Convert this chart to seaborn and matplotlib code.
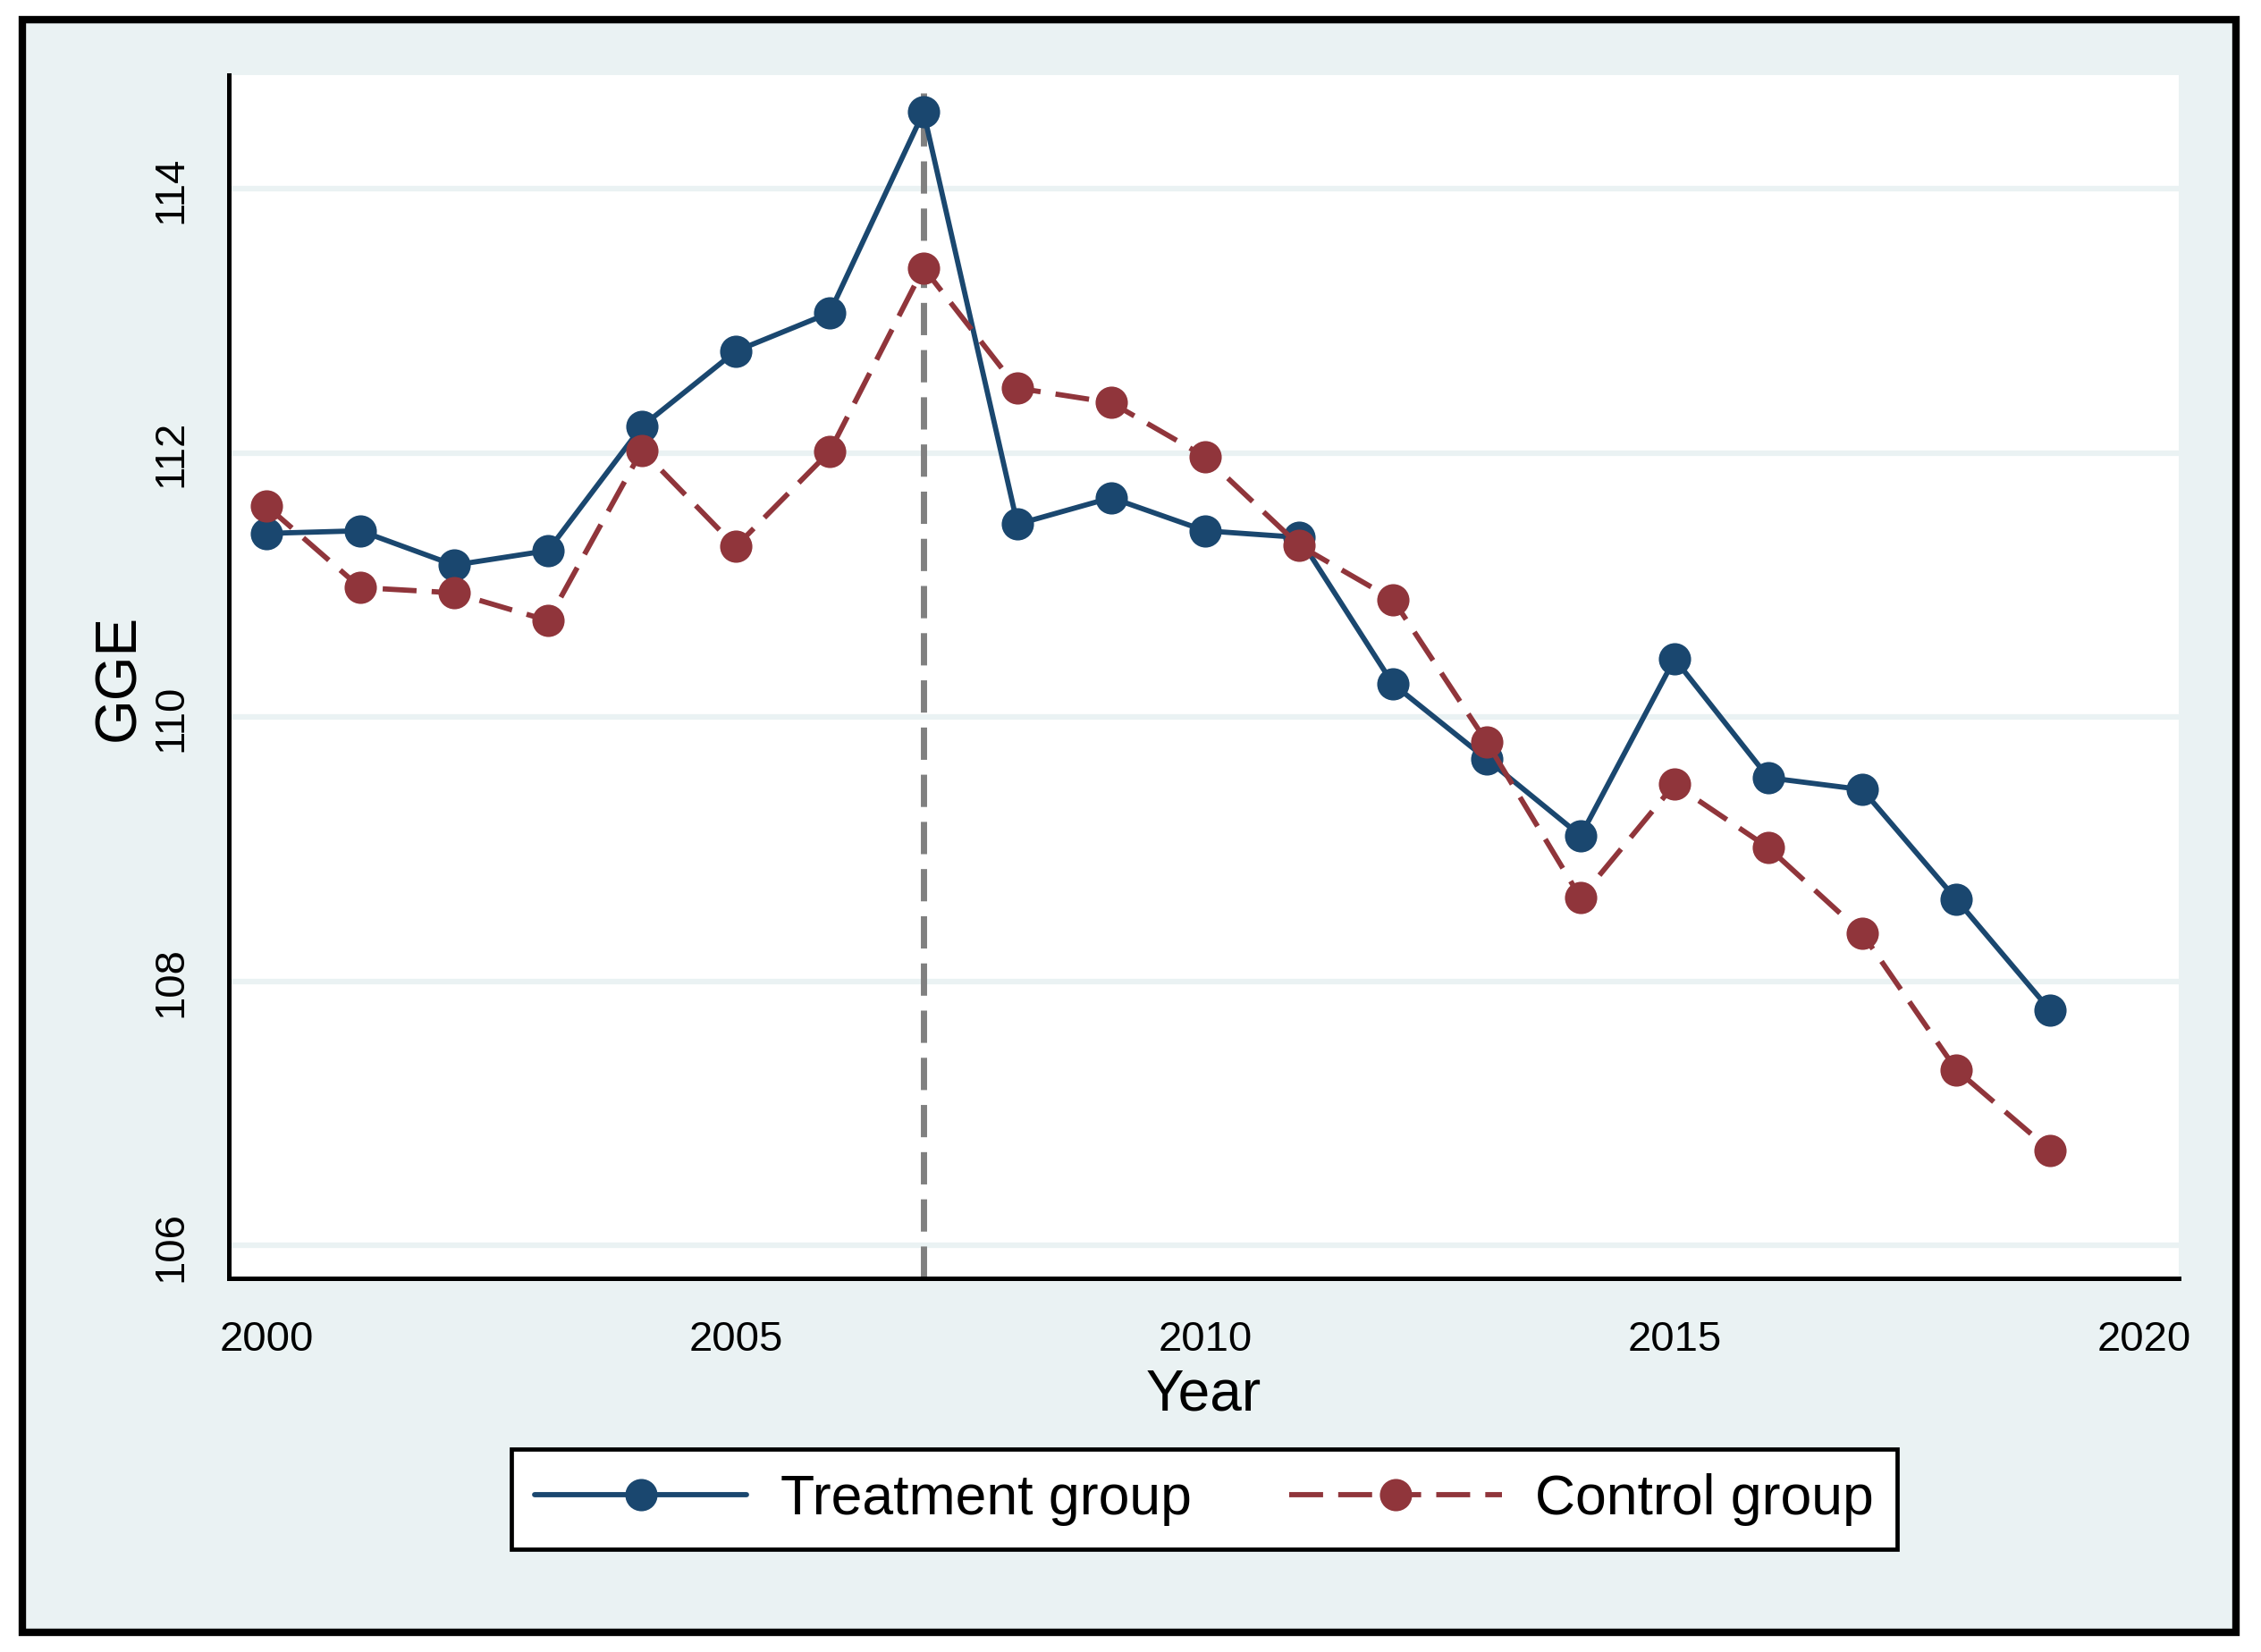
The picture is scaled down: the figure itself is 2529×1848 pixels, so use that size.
import pandas as pd
import matplotlib
matplotlib.use("Agg")
import matplotlib.pyplot as plt
import seaborn as sns
from matplotlib.patches import Rectangle

# -----------------------------
# Data
# -----------------------------
years = list(range(2000, 2020))
treatment = [111.39, 111.41, 111.15, 111.26, 112.20, 112.77, 113.06, 114.58,
             111.46, 111.66, 111.41, 111.36, 110.25, 109.68, 109.10, 110.44,
             109.54, 109.45, 108.62, 107.78]
control = [111.60, 110.98, 110.94, 110.73, 112.02, 111.29, 112.01, 113.40,
           112.49, 112.38, 111.97, 111.30, 110.89, 109.81, 108.63, 109.49,
           109.01, 108.36, 107.33, 106.72]
groups = ["Treatment group", "Control group"]
x_ticks = [2000, 2005, 2010, 2015, 2020]
y_ticks = [106, 108, 110, 112, 114]
policy_year = 2007

df = pd.DataFrame({
    "Year": years + years,
    "GGE": treatment + control,
    "Group": [groups[0]] * len(years) + [groups[1]] * len(years),
})

# -----------------------------
# Style
# -----------------------------
bg = "#EAF2F3"
navy = "#1A476F"
maroon = "#90353B"

sns.set_style("white")
plt.rcParams["font.family"] = ["Liberation Sans", "DejaVu Sans"]
plt.rcParams["text.color"] = "black"
plt.rcParams["axes.labelcolor"] = "black"
plt.rcParams["xtick.color"] = "black"
plt.rcParams["ytick.color"] = "black"

fig = plt.figure(figsize=(25.29, 18.49), dpi=100)
fig.patch.set_facecolor("white")

# outer graph region with border
fig.add_artist(Rectangle((25 / 2529, 22 / 1849), 2476 / 2529, 1804 / 1849,
                         transform=fig.transFigure, facecolor=bg,
                         edgecolor="black", linewidth=6, zorder=0))

ax = fig.add_axes([0.1012, 0.2261, 0.8624, 0.7279])
ax.set_facecolor("white")

sns.lineplot(
    data=df, x="Year", y="GGE", hue="Group", style="Group",
    palette={groups[0]: navy, groups[1]: maroon},
    markers={groups[0]: "o", groups[1]: "o"},
    dashes={groups[0]: "", groups[1]: (6.5, 2.9)},
    markersize=26, markeredgewidth=0, linewidth=4.2,
    legend=False, ax=ax, zorder=3,
)

ax.axvline(policy_year, color="#808080", linewidth=5, dashes=(5.2, 2.4),
           ymax=0.985, zorder=2)

# -----------------------------
# Axes
# -----------------------------
ax.set_xlim(1999.6, 2020.37)
ax.set_ylim(105.75, 114.86)
ax.set_xticks(x_ticks)
ax.set_yticks(y_ticks)
ax.set_xticklabels([str(t) for t in x_ticks])
ax.set_yticklabels([str(t) for t in y_ticks])

for side in ["top", "right"]:
    ax.spines[side].set_visible(False)
for side in ["left", "bottom"]:
    ax.spines[side].set_linewidth(3.6)
    ax.spines[side].set_color("black")

ax.tick_params(axis="both", direction="out", length=18, width=2.8,
               labelsize=34, color="black", labelcolor="black")
ax.tick_params(axis="x", pad=15)
ax.tick_params(axis="y", pad=13, labelrotation=90)
for lab in ax.get_yticklabels():
    lab.set_va("center")

ax.set_axisbelow(True)
ax.yaxis.grid(True, color=bg, linewidth=4.5)
ax.xaxis.grid(False)

ax.set_xlabel("Year", fontsize=46, labelpad=7)
ax.set_ylabel("GGE", fontsize=46, labelpad=4)

# -----------------------------
# Legend
# -----------------------------
leg = fig.legend(
    handles=ax.lines[:2], labels=groups, loc="center",
    bbox_to_anchor=(0.5326, 0.0925), ncol=2, fontsize=45,
    frameon=True, fancybox=False, edgecolor="black", facecolor="white",
    framealpha=1, handlelength=3.8, handletextpad=0.6,
    columnspacing=1.75, borderpad=0.42,
)
leg.get_frame().set_linewidth(3.4)

fig.savefig("out.png", dpi=100, facecolor=fig.get_facecolor())
